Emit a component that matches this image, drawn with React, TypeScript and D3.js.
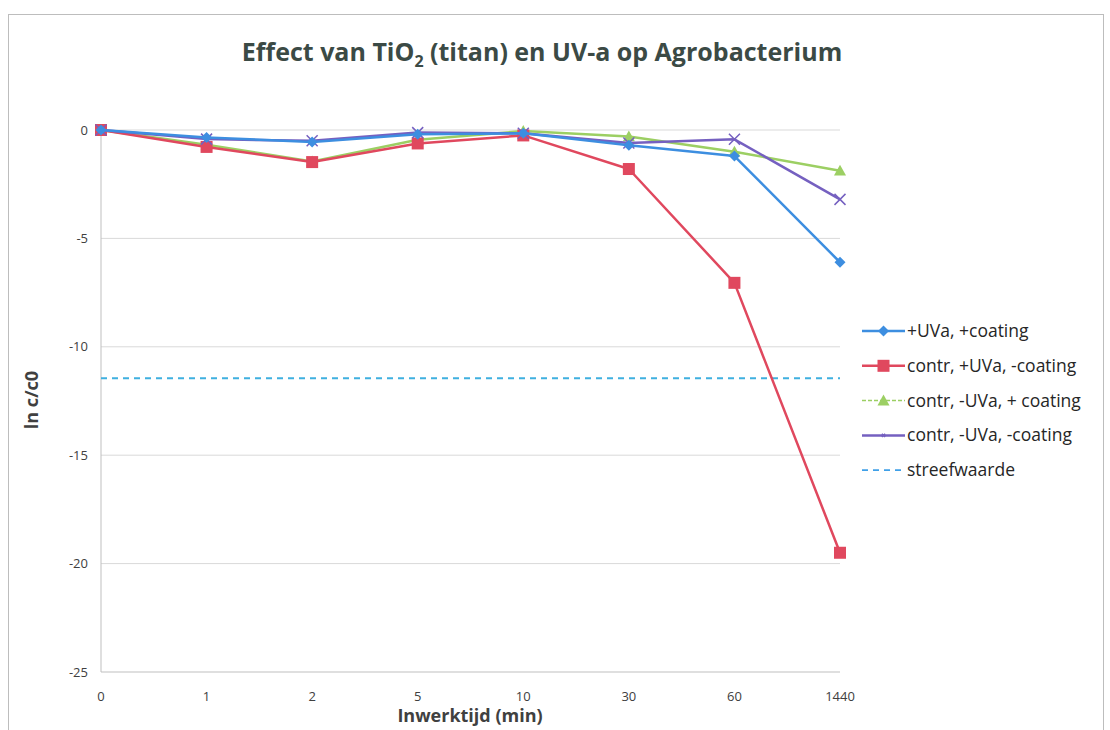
import React from "react";
import * as d3 from "d3";

const categories = ["0", "1", "2", "5", "10", "30", "60", "1440"];
const uvaCoating = [0, -0.35, -0.55, -0.2, -0.15, -0.7, -1.2, -6.1];
const contrUvaNoCoating = [0, -0.78, -1.48, -0.62, -0.25, -1.8, -7.05, -19.5];
const contrNoUvaCoating = [0, -0.68, -1.45, -0.45, -0.05, -0.3, -1.0, -1.88];
const contrNoUvaNoCoating = [0, -0.42, -0.5, -0.12, -0.15, -0.6, -0.43, -3.2];
const streefwaarde = -11.45;
const yTicks = [0, -5, -10, -15, -20, -25];

const seriesNames = [
  "+UVa, +coating",
  "contr, +UVa, -coating",
  "contr, -UVa, + coating",
  "contr, -UVa, -coating",
];

const FONT = "'Open Sans', sans-serif";

export default function App() {
  const W = 1110, H = 730;
  const x = d3.scalePoint<string>().domain(categories).range([101, 840]);
  const y = d3.scaleLinear().domain([-25, 0]).range([672, 130]);

  const series = [
    { name: seriesNames[0], values: uvaCoating, color: "#3d8ee0", marker: "diamond", width: 2.5 },
    { name: seriesNames[1], values: contrUvaNoCoating, color: "#e0485e", marker: "square", width: 2.5 },
    { name: seriesNames[2], values: contrNoUvaCoating, color: "#9ccf63", marker: "triangle", width: 2.5 },
    { name: seriesNames[3], values: contrNoUvaNoCoating, color: "#7560c0", marker: "x", width: 2.5 },
  ];
  const drawOrder = [2, 1, 3, 0];

  const line = d3.line<number>()
    .x((_, i) => x(categories[i]) as number)
    .y((v) => y(v));

  const marker = (type: string, cx: number, cy: number, color: string, key: string, s = 1) => {
    if (type === "diamond") {
      const r = 5.5 * s;
      return <path key={key} d={`M${cx},${cy - r}L${cx + r},${cy}L${cx},${cy + r}L${cx - r},${cy}Z`} fill={color} />;
    }
    if (type === "square") {
      const r = 6 * s;
      return <rect key={key} x={cx - r} y={cy - r} width={2 * r} height={2 * r} fill={color} />;
    }
    if (type === "triangle") {
      const r = 6 * s;
      return <path key={key} d={`M${cx},${cy - r}L${cx + r},${cy + r * 0.8}L${cx - r},${cy + r * 0.8}Z`} fill={color} />;
    }
    const r = 5.5 * s;
    return <path key={key} d={`M${cx - r},${cy - r}L${cx + r},${cy + r}M${cx + r},${cy - r}L${cx - r},${cy + r}`} stroke={color} strokeWidth={1.5} fill="none" />;
  };

  const legendX = 862, legendY0 = 331, legendDy = 34.8;

  return (
    <svg width={W} height={H} style={{ position: "absolute", left: 0, top: 0 }} fontFamily={FONT}>
      <rect x={0} y={0} width={W} height={H} fill="#fff" />
      <rect x={8.5} y={14.5} width={1095} height={740} fill="none" stroke="#bdbdbd" strokeWidth={1} />
      <text x={542} y={61} textAnchor="middle" fontSize={25} fontWeight="bold" fill="#3b4a45">
        Effect van TiO<tspan fontSize={16} dy={6}>2</tspan><tspan dy={-6}> (titan) en UV-a op Agrobacterium</tspan>
      </text>

      {yTicks.map((t) => (
        <g key={t}>
          <line x1={101} x2={840} y1={y(t)} y2={y(t)} stroke={t === -25 ? "#bfbfbf" : "#d9d9d9"} strokeWidth={1} />
          <text x={88} y={y(t) + 4.5} textAnchor="end" fontSize={13} fill="#404040">{t}</text>
        </g>
      ))}
      <line x1={101} x2={101} y1={130} y2={672} stroke="#bfbfbf" strokeWidth={1} />
      {categories.map((c) => (
        <text key={c} x={x(c) as number} y={701} textAnchor="middle" fontSize={13} fill="#404040">{c}</text>
      ))}

      <text x={470} y={722} textAnchor="middle" fontSize={18} fontWeight="bold" fill="#404040">Inwerktijd (min)</text>
      <text transform={`translate(38,400) rotate(-90)`} textAnchor="middle" fontSize={18} fontWeight="bold" fill="#404040">ln c/c0</text>

      <line x1={101} x2={840} y1={y(streefwaarde)} y2={y(streefwaarde)} stroke="#3fb0e0" strokeWidth={1.8} strokeDasharray="6,5" />

      {drawOrder.map((si) => {
        const s = series[si];
        return (
          <g key={s.name}>
            <path d={line(s.values) as string} fill="none" stroke={s.color} strokeWidth={s.width} strokeLinejoin="round" />
            {s.values.map((v, i) => marker(s.marker, x(categories[i]) as number, y(v), s.color, `${si}-${i}`))}
          </g>
        );
      })}

      {series.map((s, i) => {
        const ly = legendY0 + i * legendDy;
        return (
          <g key={s.name}>
            <line x1={legendX} x2={legendX + 43} y1={ly} y2={ly} stroke={s.color} strokeWidth={i === 2 ? 1.5 : 2.5} strokeDasharray={dashFor(i)} />
            {marker(s.marker, legendX + 21.5, ly, s.color, `lg-${i}`, i === 3 ? 0.3 : 1)}
            <text x={legendX + 45} y={ly + 6} fontSize={17.5} fill="#262626">{s.name}</text>
          </g>
        );
      })}
      <line x1={legendX} x2={legendX + 43} y1={legendY0 + 4 * legendDy} y2={legendY0 + 4 * legendDy} stroke="#3fa0e8" strokeWidth={1.8} strokeDasharray="6,5" />
      <text x={legendX + 45} y={legendY0 + 4 * legendDy + 6} fontSize={17.5} fill="#262626">streefwaarde</text>
    </svg>
  );
}

function dashFor(i: number) {
  return i === 2 ? "4,2" : undefined;
}
